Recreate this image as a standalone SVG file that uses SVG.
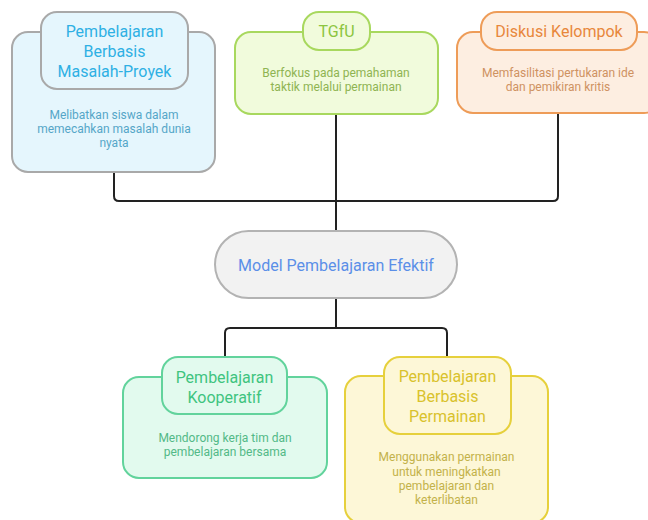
<svg xmlns="http://www.w3.org/2000/svg" width="648" height="520" viewBox="0 0 648 520">
<style>
text{font-family:Roboto,"Liberation Sans",sans-serif;text-anchor:middle}
.t{font-size:16px}
.d{font-size:12px}
.conn{fill:none;stroke:#222;stroke-width:2}
.blue rect{fill:#e5f6fd;stroke:#a9a9a9;stroke-width:2}
.blue .t{fill:#2eb0e4}.blue .d{fill:#55a6c8}
.lime rect{fill:#f1fbdc;stroke:#a8d85e;stroke-width:2}
.lime .t{fill:#8cc540}.lime .d{fill:#8fb452}
.orange rect{fill:#fdeee1;stroke:#ee9c58;stroke-width:2}
.orange .t{fill:#e8873c}.orange .d{fill:#cf9262}
.green rect{fill:#e2faee;stroke:#62d39c;stroke-width:2}
.green .t{fill:#3fc47f}.green .d{fill:#52b987}
.yellow rect{fill:#fdf7d7;stroke:#e6d03c;stroke-width:2}
.yellow .t{fill:#d9c22c}.yellow .d{fill:#c3b24a}
.center rect{fill:#f2f2f2;stroke:#b3b3b3;stroke-width:2}
.center .t{fill:#5b8fe8}
</style>
<g id="connectors">
<path class="conn" d="M114 172 V196 Q114 201 119 201 H553 Q558 201 558 196 V113"/>
<path class="conn" d="M336 115 V231"/>
<path class="conn" d="M336 298 V328"/>
<path class="conn" d="M225 357 V333 Q225 328 230 328 H442 Q447 328 447 333 V357"/>
</g>
<g id="node-pbl" class="blue">
<rect x="12" y="32" width="203" height="140" rx="16"/>
<rect x="41" y="12" width="147" height="77" rx="16"/>
<text class="t" x="114.5" y="37">Pembelajaran</text>
<text class="t" x="114.5" y="57">Berbasis</text>
<text class="t" x="114.5" y="77">Masalah-Proyek</text>
<text class="d" x="114" y="119">Melibatkan siswa dalam</text>
<text class="d" x="114" y="133">memecahkan masalah dunia</text>
<text class="d" x="114" y="147">nyata</text>
</g>
<g id="node-tgfu" class="lime">
<rect x="235" y="32" width="203" height="82" rx="16"/>
<rect x="303" y="12" width="67" height="38" rx="16"/>
<text class="t" x="336.5" y="37">TGfU</text>
<text class="d" x="336" y="77">Berfokus pada pemahaman</text>
<text class="d" x="336" y="91">taktik melalui permainan</text>
</g>
<g id="node-diskusi" class="orange">
<rect x="457" y="32" width="203" height="81" rx="16"/>
<rect x="481" y="12" width="156" height="38" rx="16"/>
<text class="t" x="559" y="37">Diskusi Kelompok</text>
<text class="d" x="558" y="77">Memfasilitasi pertukaran ide</text>
<text class="d" x="558" y="91">dan pemikiran kritis</text>
</g>
<g id="node-center" class="center">
<rect x="215" y="231" width="242" height="67" rx="33.5"/>
<text class="t" x="336" y="271">Model Pembelajaran Efektif</text>
</g>
<g id="node-kooperatif" class="green">
<rect x="123" y="377" width="204" height="101" rx="16"/>
<rect x="162" y="357" width="125" height="57" rx="16"/>
<text class="t" x="224.5" y="383">Pembelajaran</text>
<text class="t" x="224.5" y="403">Kooperatif</text>
<text class="d" x="225" y="442">Mendorong kerja tim dan</text>
<text class="d" x="225" y="456">pembelajaran bersama</text>
</g>
<g id="node-permainan" class="yellow">
<rect x="345" y="376" width="203" height="147" rx="16"/>
<rect x="384" y="357" width="127" height="77" rx="16"/>
<text class="t" x="447.5" y="382">Pembelajaran</text>
<text class="t" x="447.5" y="402">Berbasis</text>
<text class="t" x="447.5" y="422">Permainan</text>
<text class="d" x="446.5" y="461">Menggunakan permainan</text>
<text class="d" x="446.5" y="476">untuk meningkatkan</text>
<text class="d" x="446.5" y="490">pembelajaran dan</text>
<text class="d" x="446.5" y="504">keterlibatan</text>
</g>
</svg>
